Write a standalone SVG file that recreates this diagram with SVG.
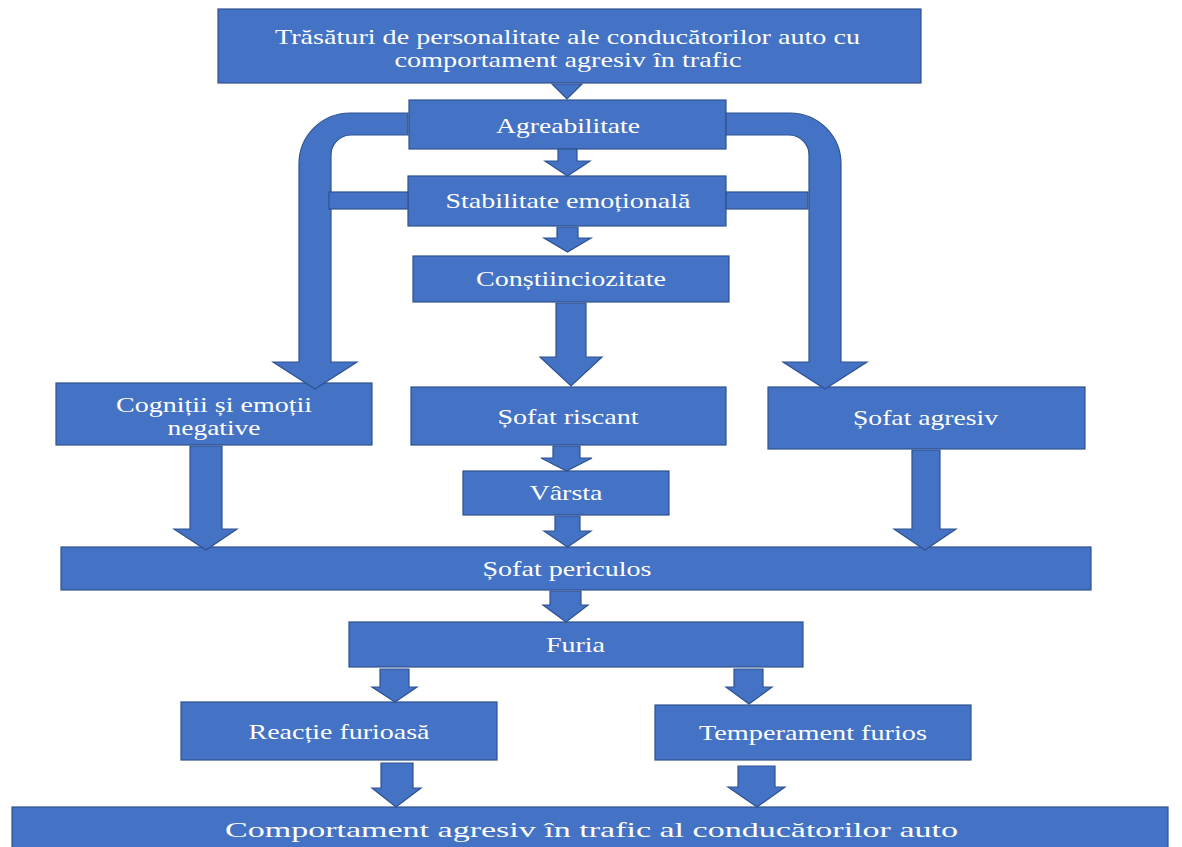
<svg xmlns="http://www.w3.org/2000/svg" width="1182" height="847" viewBox="0 0 1182 847">
<style>
.n{fill:#4472C4;stroke:#2F528F;stroke-width:1.2}
.a{fill:#4472C4;stroke:#2F528F;stroke-width:1.2;stroke-linejoin:miter}
.t{font-family:"Liberation Serif","Times New Roman",serif;font-size:21px;fill:#FFFFFF;text-anchor:middle}
.tb{font-family:"Liberation Serif","Times New Roman",serif;font-size:22px;fill:#FFFFFF;text-anchor:middle}
</style>
<rect width="1182" height="847" fill="#FFFFFF"/>
<g id="nodes">
<g id="n-top"><rect class="n" x="218" y="9" width="703" height="74"/>
<text class="t" x="567.5" y="44" textLength="585" lengthAdjust="spacingAndGlyphs">Trăsături de personalitate ale conducătorilor auto cu</text>
<text class="t" x="568" y="67" textLength="347" lengthAdjust="spacingAndGlyphs">comportament agresiv în trafic</text></g>
<g id="n-agreab"><rect class="n" x="409" y="100" width="317" height="49"/>
<text class="t" x="568" y="133" textLength="144" lengthAdjust="spacingAndGlyphs">Agreabilitate</text></g>
<g id="n-stab"><rect class="n" x="408" y="176" width="318" height="50"/>
<text class="t" x="568" y="208" textLength="245" lengthAdjust="spacingAndGlyphs">Stabilitate emoțională</text></g>
<g id="n-consti"><rect class="n" x="413" y="256" width="316" height="46"/>
<text class="t" x="571" y="286" textLength="190" lengthAdjust="spacingAndGlyphs">Conștiinciozitate</text></g>
<g id="n-cogn"><rect class="n" x="56" y="383" width="316" height="62"/>
<text class="t" x="214" y="412" textLength="196" lengthAdjust="spacingAndGlyphs">Cogniții și emoții</text>
<text class="t" x="214" y="435" textLength="93" lengthAdjust="spacingAndGlyphs">negative</text></g>
<g id="n-riscant"><rect class="n" x="411" y="387" width="315" height="58"/>
<text class="t" x="568" y="424" textLength="141" lengthAdjust="spacingAndGlyphs">Șofat riscant</text></g>
<g id="n-agresiv"><rect class="n" x="768" y="387" width="317" height="62"/>
<text class="t" x="925.5" y="425" textLength="145" lengthAdjust="spacingAndGlyphs">Șofat agresiv</text></g>
<g id="n-varsta"><rect class="n" x="463" y="471" width="206" height="44"/>
<text class="t" x="566" y="500" textLength="73" lengthAdjust="spacingAndGlyphs">Vârsta</text></g>
<g id="n-periculos"><rect class="n" x="61" y="547" width="1030" height="43"/>
<text class="t" x="567" y="576" textLength="169" lengthAdjust="spacingAndGlyphs">Șofat periculos</text></g>
<g id="n-furia"><rect class="n" x="349" y="622" width="454" height="45"/>
<text class="t" x="575.5" y="652" textLength="59" lengthAdjust="spacingAndGlyphs">Furia</text></g>
<g id="n-reactie"><rect class="n" x="181" y="702" width="316" height="58"/>
<text class="t" x="339" y="739" textLength="181" lengthAdjust="spacingAndGlyphs">Reacție furioasă</text></g>
<g id="n-temperament"><rect class="n" x="655" y="705" width="316" height="55"/>
<text class="t" x="813" y="740" textLength="228" lengthAdjust="spacingAndGlyphs">Temperament furios</text></g>
<g id="n-bottom"><rect class="n" x="12" y="807" width="1156" height="45"/>
<text class="tb" x="591.5" y="837" textLength="733" lengthAdjust="spacingAndGlyphs">Comportament agresiv în trafic al conducătorilor auto</text></g>
</g>
<g id="connectors">
<polygon class="a" points="552,84 582,84 567,99"/>
<path class="a" d="M408,113 L350,113 A51,51 0 0 0 299,164 L299,362 L273,362 L315,389 L357,362 L331,362 L331,155 A20,20 0 0 1 351,135 L408,135 Z"/>
<path class="a" d="M726,113 L790,113 A51,51 0 0 1 841,164 L841,362 L867,362 L825,389 L783,362 L809,362 L809,155 A20,20 0 0 0 789,135 L726,135 Z"/>
<rect class="a" x="329" y="192" width="79" height="17"/>
<rect class="a" x="726" y="192" width="82" height="17"/>
<path class="a" d="M558,149 L577,149 L577,161 L590,161 L567.5,176 L545,161 L558,161 Z"/>
<path class="a" d="M557,227 L578,227 L578,238 L591,238 L567.5,252 L544,238 L557,238 Z"/>
<path class="a" d="M556,303 L586,303 L586,357 L602,357 L571,386 L540,357 L556,357 Z"/>
<path class="a" d="M553,446 L580,446 L580,458 L592,458 L566.5,471 L541,458 L553,458 Z"/>
<path class="a" d="M555,516 L580,516 L580,531 L591,531 L567.5,547 L544,531 L555,531 Z"/>
<path class="a" d="M550,591 L581,591 L581,605 L588,605 L566,622 L543,605 L550,605 Z"/>
<path class="a" d="M380,669 L409,669 L409,687 L417,687 L395,702 L372,687 L380,687 Z"/>
<path class="a" d="M734,669 L763,669 L763,687 L772,687 L749,704 L726,687 L734,687 Z"/>
<path class="a" d="M381,763 L413,763 L413,788 L421,788 L396,807 L372,788 L381,788 Z"/>
<path class="a" d="M738,766 L775,766 L775,787 L785,787 L757,807 L728,787 L738,787 Z"/>
<path class="a" d="M190,446 L222,446 L222,529 L237,529 L206,550 L174,529 L190,529 Z"/>
<path class="a" d="M912,450 L940,450 L940,529 L956,529 L925,550 L894,529 L912,529 Z"/>
</g>
</svg>
